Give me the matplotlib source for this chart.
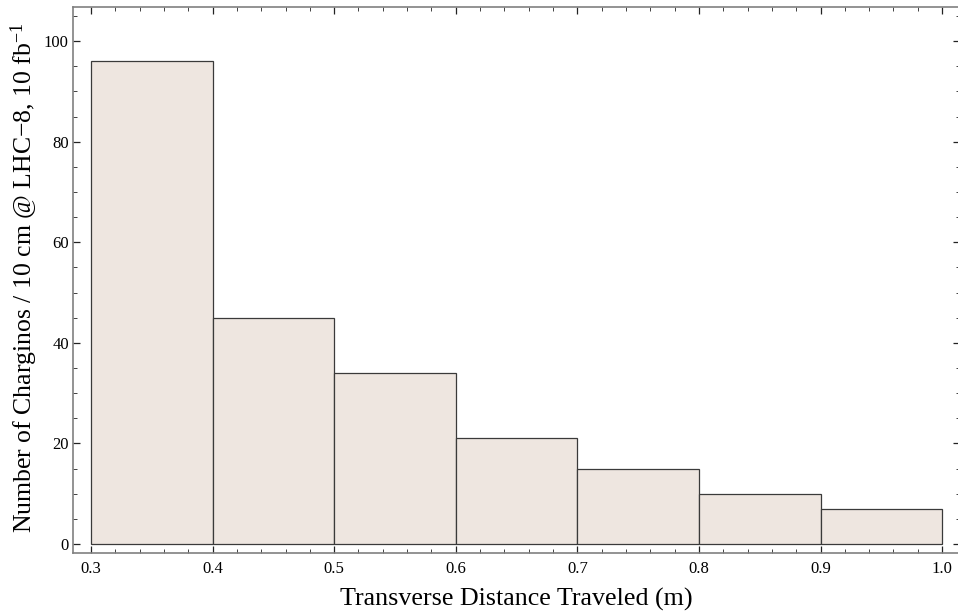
import numpy as np
import matplotlib
matplotlib.use("Agg")
import matplotlib.pyplot as plt
from matplotlib.ticker import MultipleLocator

# histogram data
bin_edges = [0.3, 0.4, 0.5, 0.6, 0.7, 0.8, 0.9, 1.0]
counts = [96, 45, 34, 21, 15, 10, 7]

plt.rcParams['font.family'] = ['Liberation Serif', 'DejaVu Serif']
plt.rcParams['mathtext.fontset'] = 'custom'
plt.rcParams['mathtext.rm'] = 'Liberation Serif'
plt.rcParams['mathtext.it'] = 'Liberation Serif:italic'

fig = plt.figure(figsize=(9.58, 6.12), dpi=100)
ax = fig.add_axes([0.0762, 0.0964, 0.926, 0.8922])

edges = np.array(bin_edges)
ax.bar(edges[:-1], counts, width=np.diff(edges), align='edge',
       color='#EEE6E0', edgecolor='#3a3a3a', linewidth=0.9)

ax.set_xlim(0.2852, 1.0148)
ax.set_ylim(-1.8, 106.8)

ax.xaxis.set_minor_locator(MultipleLocator(0.02))
ax.yaxis.set_major_locator(MultipleLocator(20))
ax.yaxis.set_minor_locator(MultipleLocator(5))
ax.set_xticks(bin_edges)
ax.set_xticklabels([f"{v:.1f}" for v in bin_edges])

ax.tick_params(which='both', direction='in', top=True, right=True,
               color='#222222', labelsize=12)
ax.tick_params(which='major', length=5, width=0.9)
ax.tick_params(which='minor', length=3, width=0.6)
ax.tick_params(axis='x', which='major', pad=6)
ax.tick_params(axis='y', which='major', pad=3)

for s in ax.spines.values():
    s.set_color('#808080')
    s.set_linewidth(1.2)

ax.set_xlabel('Transverse Distance Traveled (m)', fontsize=18.7)
ax.set_ylabel('Number of Charginos / 10 cm @ LHC\u22128, 10 fb$^{-1}$',
              fontsize=18.5)
ax.xaxis.set_label_coords(0.5, -0.064)
ax.yaxis.set_label_coords(-0.037, 0.505)

fig.savefig('out.png', dpi=100)
